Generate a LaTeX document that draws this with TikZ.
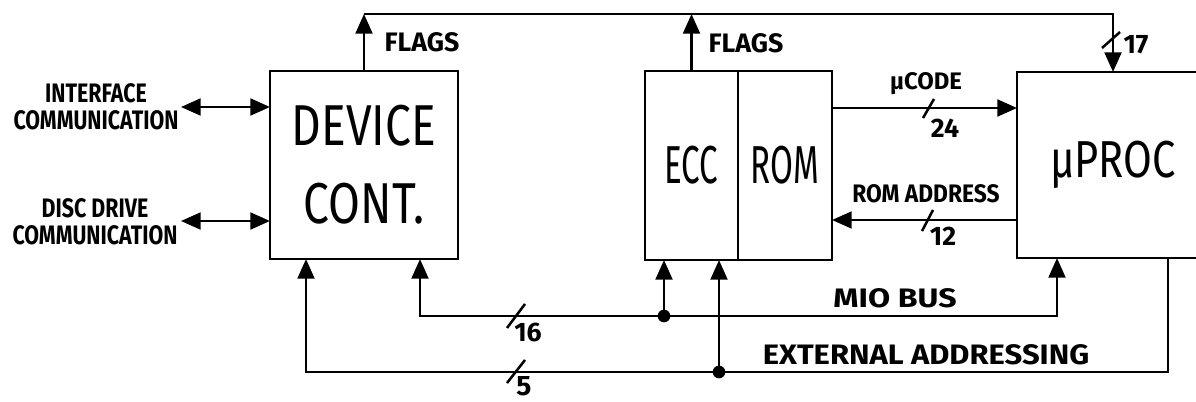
\documentclass[tikz,border=0pt]{standalone}
\usepackage{fontspec}
\setmainfont{Fira Sans}
\newfontfamily\bigfont{Fira Sans}[FakeStretch=0.8]
\newfontfamily\slimfont{Fira Sans}[FakeStretch=0.62]
\usetikzlibrary{arrows.meta,positioning,calc}

\begin{document}
\begin{tikzpicture}[x=0.025cm, y=-0.025cm, line width=1.8pt, >={Triangle[length=14pt,width=12pt]},
  blk/.style={draw,line width=1.8pt,outer sep=0pt,inner sep=0pt,align=center},
  lbl/.style={font=\fontsize{19}{21}\selectfont\bfseries,inner sep=0pt},
  side/.style={font=\fontsize{19}{19}\selectfont\bfseries,inner sep=0pt,align=center,xscale=0.8}]
\useasboundingbox (0,0) rectangle (1196,401);
\clip (0,0) rectangle (1196,401);
\node[blk,minimum width=4.7cm,minimum height=4.7cm,font=\bigfont\fontsize{41}{55.5}\selectfont](dev) at (364,165){DEVICE\\CONT.};
\node[blk,minimum width=2.325cm,minimum height=4.725cm,font=\slimfont\fontsize{38}{40}\selectfont](ecc) at (691.5,165.5){ECC};
\node[blk,minimum width=2.35cm,minimum height=4.725cm,font=\slimfont\fontsize{38}{40}\selectfont,right=0pt of ecc](rom){ROM};
\node[blk,minimum width=4.8cm,minimum height=4.65cm,font=\bigfont\fontsize{37}{40}\selectfont](proc) at (1113,165){μPROC};
\node[side](ifclbl) at (96,107){INTERFACE\\COMMUNICATION};
\node[side](disclbl) at (95,222){DISC DRIVE\\COMMUNICATION};
\node[lbl](flagsdev) at (422,42){FLAGS};
\node[lbl](flagsecc) at (746,43){FLAGS};
\node[lbl](w17) at (1136,45){17};
\node[lbl,font=\fontsize{17}{19}\selectfont\bfseries](ucodelbl) at (926,84){μCODE};
\node[lbl](w24) at (945,128){24};
\node[lbl,font=\fontsize{18}{20}\selectfont\bfseries,xscale=0.9](romaddr) at (926,194){ROM ADDRESS};
\node[lbl](w12) at (943,236){12};
\node[lbl,xscale=1.2](miobus) at (895,298){MIO BUS};
\node[lbl,font=\fontsize{20}{22}\selectfont\bfseries,xscale=1.1](extaddr) at (926,355){EXTERNAL ADDRESSING};
\node[lbl](w16) at (528,333){16};
\node[lbl,font=\fontsize{20}{22}\selectfont\bfseries](w5) at (524,386){5};
\coordinate (bustop) at (0,14);
\coordinate (ifc) at (181,107);
\coordinate (disc) at (181,221);
\coordinate (ucode) at (0,108);
\coordinate (radr) at (0,220);
\coordinate (mioL) at (420,316); \coordinate (mioJ) at (664,316); \coordinate (mioR) at (1057,316);
\coordinate (extL) at (306,372); \coordinate (extJ) at (719,372); \coordinate (extR) at (1168,372);
\draw[->] (dev.north) -- (dev.north |- bustop);
\draw[->] (dev.north |- bustop) -- (proc.north |- bustop) -- (proc.north);
\draw[->] (ecc.north) -- (ecc.north |- bustop);
\draw[<->] (ifc) -- (ifc -| dev.west);
\draw[<->] (disc) -- (disc -| dev.west);
\draw[->] (rom.east |- ucode) -- (proc.west |- ucode);
\draw[->] (proc.west |- radr) -- (rom.east |- radr);
\draw[->] (mioJ) -- (mioL) -- (mioL |- dev.south);
\draw[->] (mioJ) -- (mioR) -- (mioR |- proc.south);
\draw[->] (mioJ) -- (mioJ |- ecc.south);
\fill (mioJ) circle (4.5pt);
\draw[->] (extJ) -- (extL) -- (extL |- dev.south);
\draw[->] (extJ) -- (extJ |- ecc.south);
\draw (proc.south -| extR) -- (extR) -- (extJ);
\fill (extJ) circle (4.5pt);
\draw (507,328) -- (525,304); \draw (507,383) -- (525,360);
\draw (923,118) -- (934,99); \draw (922,231) -- (933,210);
\draw (1102,48) -- (1120,32);
\end{tikzpicture}
\end{document}
